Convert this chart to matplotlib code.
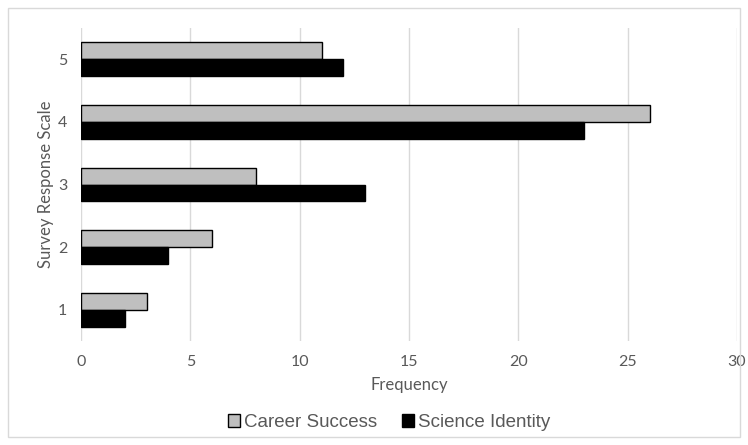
import numpy as np
import matplotlib
matplotlib.use("Agg")
import matplotlib.pyplot as plt
from matplotlib.patches import Rectangle

scale = ["1", "2", "3", "4", "5"]
career_success = [3, 6, 8, 26, 11]
science_identity = [2, 4, 13, 23, 12]
x_ticks = [0, 5, 10, 15, 20, 25, 30]

txt = "#595959"
fig = plt.figure(figsize=(7.48, 4.45), dpi=100)
ax = fig.add_axes([0.1083, 0.2337, 0.877, 0.7033])

y = np.arange(1, len(scale) + 1)
h = 0.27
ax.barh(y + h / 2, career_success, height=h, color="#bfbfbf",
        edgecolor="black", linewidth=1.0, label="Career Success", zorder=3)
ax.barh(y - h / 2, science_identity, height=h, color="black",
        edgecolor="black", linewidth=1.0, label="Science Identity", zorder=3)

ax.set_xlim(0, 30)
ax.set_ylim(0.5, 5.5)
ax.set_xticks(x_ticks)
ax.set_yticks(y)
ax.set_yticklabels(scale)
ax.grid(axis="x", color="#d9d9d9", linewidth=1.0, zorder=0)
for s in ax.spines.values():
    s.set_visible(False)
ax.tick_params(length=0, labelsize=11.5, labelcolor=txt)
ax.tick_params(axis="y", pad=10)
ax.tick_params(axis="x", pad=10)
for lab in ax.get_xticklabels() + ax.get_yticklabels():
    lab.set_family("Lato")

ax.set_xlabel("Frequency", fontsize=12, color=txt, family="Lato", labelpad=6)
ax.set_ylabel("Survey Response Scale", fontsize=12, color=txt, family="Lato", labelpad=3)

leg = fig.legend(loc="center", bbox_to_anchor=(0.52, 0.05), ncol=2, frameon=False,
                 prop={"family": "Liberation Sans", "size": 13.5},
                 handlelength=0.65, handleheight=0.65, handletextpad=0.2,
                 columnspacing=1.3, labelcolor=txt)

# thin border round the whole chart
fig.patches.append(Rectangle((0.011, 0.018), 0.978, 0.964, transform=fig.transFigure,
                             fill=False, edgecolor="#d9d9d9", linewidth=1.0))

fig.savefig("out.png", dpi=100)
